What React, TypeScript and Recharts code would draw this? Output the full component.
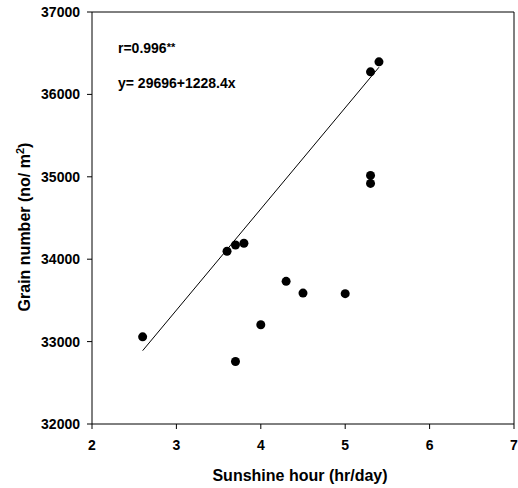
import React from "react";
import {
  ScatterChart,
  Scatter,
  XAxis,
  YAxis,
  ReferenceLine,
  Customized,
} from "recharts";

const sunshineHours = [2.6, 3.6, 3.7, 3.8, 3.7, 4.0, 4.3, 4.5, 5.0, 5.4, 5.3, 5.3, 5.3];
const grainNumbers = [33058, 34096, 34173, 34193, 32758, 33204, 33731, 33589, 33582, 36395, 36274, 35017, 34920];

const xTicks = [2, 3, 4, 5, 6, 7];
const yTicks = [32000, 33000, 34000, 35000, 36000, 37000];

const intercept = 29696;
const slope = 1228.4;
const fitRange = [2.6, 5.4];

const points = sunshineHours.map((x, i) => ({ x, y: grainNumbers[i] }));
const fitSegment = fitRange.map((x) => ({ x, y: intercept + slope * x }));

const FONT = "'Liberation Sans', Arial, Helvetica, sans-serif";

const Dot = (props: any) => {
  const { cx, cy } = props;
  return <circle cx={cx} cy={cy} r={4.5} fill="#000" />;
};

const XTick = (props: any) => {
  const { x, y, payload } = props;
  return (
    <text
      x={x}
      y={y + 19}
      textAnchor="middle"
      style={{ fontFamily: FONT, fontWeight: 700, fontSize: 14, fill: "#000" }}
    >
      {payload.value}
    </text>
  );
};

const YTick = (props: any) => {
  const { x, y, payload } = props;
  return (
    <text
      x={x - 5}
      y={y + 5}
      textAnchor="end"
      style={{ fontFamily: FONT, fontWeight: 700, fontSize: 14, fill: "#000" }}
    >
      {payload.value}
    </text>
  );
};

const Texts = () => (
  <g style={{ fontFamily: FONT, fontWeight: 700, fill: "#000" }}>
    <text x={118} y={53} style={{ fontSize: 14 }}>
      r=0.996<tspan style={{ fontSize: 11 }} dy={-2}>**</tspan>
    </text>
    <text x={118} y={87.5} style={{ fontSize: 14 }}>
      y= 29696+1228.4x
    </text>
    <text x={300} y={481} style={{ fontSize: 16 }} textAnchor="middle">
      Sunshine hour (hr/day)
    </text>
    <text
      x={30}
      y={227}
      style={{ fontSize: 16 }}
      textAnchor="middle"
      transform="rotate(-90 30 227)"
    >
      Grain number (no/ m<tspan style={{ fontSize: 11 }} dy={-6}>2</tspan>
      <tspan dy={6}>)</tspan>
    </text>
  </g>
);

export default function App() {
  return (
    <div style={{ position: "absolute", left: 0, top: 0, width: 518, height: 488 }}>
      <ScatterChart
        width={518}
        height={488}
        margin={{ top: 12, right: 4, bottom: 0, left: 0 }}
      >
        <XAxis
          type="number"
          dataKey="x"
          domain={[2, 7]}
          ticks={xTicks}
          interval={0}
          height={64}
          tickSize={5}
          tick={<XTick />}
          axisLine={{ stroke: "#000" }}
          tickLine={{ stroke: "#000" }}
          allowDataOverflow
        />
        <YAxis
          type="number"
          dataKey="y"
          domain={[32000, 37000]}
          ticks={yTicks}
          interval={0}
          width={92}
          tickSize={5}
          tick={<YTick />}
          axisLine={{ stroke: "#000" }}
          tickLine={{ stroke: "#000" }}
          allowDataOverflow
        />
        <ReferenceLine y={37000} stroke="#000" />
        <ReferenceLine x={7} stroke="#000" />
        <ReferenceLine segment={fitSegment} stroke="#000" strokeWidth={1} />
        <Scatter data={points} shape={<Dot />} isAnimationActive={false} />
        <Customized component={Texts} />
      </ScatterChart>
    </div>
  );
}
